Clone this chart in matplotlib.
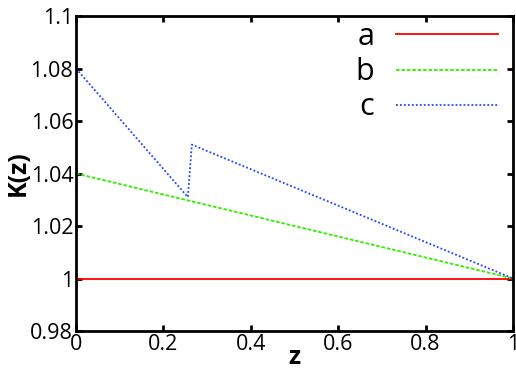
import matplotlib
matplotlib.use("Agg")
import matplotlib.pyplot as plt

plt.rcParams['font.family'] = ['Open Sans', 'DejaVu Sans']

# Data
a_x = [0.0, 1.0]
a_y = [1.0, 1.0]
b_x = [0.0, 1.0]
b_y = [1.04, 1.0]
c_x = [0.0, 0.256, 0.265, 1.0]
c_y = [1.08, 1.031, 1.051, 1.0]
xticks = [0, 0.2, 0.4, 0.6, 0.8, 1]
xticklabels = ["0", "0.2", "0.4", "0.6", "0.8", "1"]
yticks = [0.98, 1.0, 1.02, 1.04, 1.06, 1.08, 1.1]
yticklabels = ["0.98", "1", "1.02", "1.04", "1.06", "1.08", "1.1"]

fig = plt.figure(figsize=(5.16, 3.69), dpi=100)
ax = fig.add_axes([76/516, 1-331/369, (513-76)/516, (331-16)/369])

ax.plot(a_x, a_y, color='#ff0000', lw=1.3, label='a')
ax.plot(b_x, b_y, color='#33ee00', lw=1.3, ls=(0, (2, 1)), label='b')
ax.plot(c_x, c_y, color='#2244ff', lw=1.3, ls=(0, (1, 1.2)), label='c')

ax.set_xlim(0, 1)
ax.set_ylim(0.98, 1.1)
ax.set_xticks(xticks)
ax.set_xticklabels(xticklabels)
ax.set_yticks(yticks)
ax.set_yticklabels(yticklabels)
ax.tick_params(direction='in', top=True, right=True, length=4, width=2,
               labelsize=15.5, pad=2)
for s in ax.spines.values():
    s.set_linewidth(2)

ax.set_xlabel('z', fontsize=18, fontweight='bold', labelpad=-7)
ax.set_ylabel('K(z)', fontsize=18, fontweight='bold', labelpad=0)

leg = fig.legend(loc='upper right', frameon=False, markerfirst=False,
                 fontsize=22, handlelength=3.35, labelspacing=0.17,
                 bbox_to_anchor=(498/516, 1-22/369), handletextpad=0.7,
                 borderpad=0, borderaxespad=0)
for t in leg.get_texts():
    t.set_ha('right')

fig.savefig('out.png', dpi=100)
